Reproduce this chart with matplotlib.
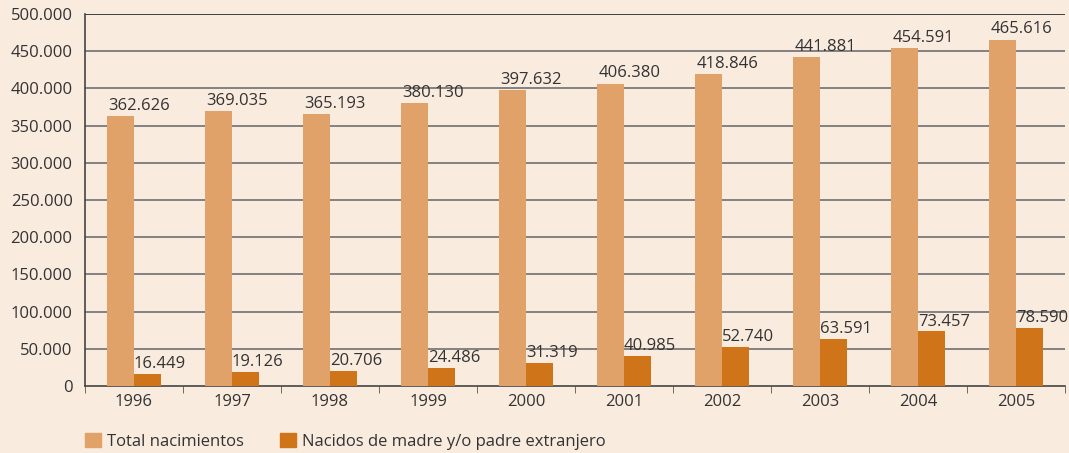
import numpy as np
import matplotlib
matplotlib.use('Agg')
import matplotlib.pyplot as plt
from matplotlib.patches import Patch

plt.rcParams['font.family'] = 'Open Sans'
plt.rcParams['font.size'] = 12

years = ['1996', '1997', '1998', '1999', '2000', '2001', '2002', '2003', '2004', '2005']
total = [362626, 369035, 365193, 380130, 397632, 406380, 418846, 441881, 454591, 465616]
extranjero = [16449, 19126, 20706, 24486, 31319, 40985, 52740, 63591, 73457, 78590]
series_names = ['Total nacimientos', 'Nacidos de madre y/o padre extranjero']
yticks = [0, 50000, 100000, 150000, 200000, 250000, 300000, 350000, 400000, 450000, 500000]

bg = '#faebdf'
c_light = '#e0a268'
c_dark = '#cf7419'
txt = '#333333'

def fmt(v):
    return f'{v:,}'.replace(',', '.')

fig = plt.figure(figsize=[10.69, 4.53], dpi=100, facecolor=bg)
ax = fig.add_axes([85/1069, 1-386/453, 980/1069, (386-14)/453])
ax.set_facecolor(bg)

x = np.arange(len(years))
w = 0.28
ax.bar(x - w/2, total, w, color=c_light, zorder=3)
ax.bar(x + w/2, extranjero, w, color=c_dark, zorder=3)

for i in range(len(years)):
    ax.text(x[i] - w + 0.02, total[i] + 3000, fmt(total[i]), ha='left', va='bottom',
            color=txt, zorder=4, clip_on=False)
    ax.text(x[i] + 0.0, extranjero[i] + 2000, fmt(extranjero[i]), ha='left', va='bottom',
            color=txt, zorder=4, clip_on=False)

ax.set_xlim(-0.5, len(years) - 0.5)
ax.set_ylim(0, 500000)
ax.set_yticks(yticks)
ax.set_yticklabels([fmt(v) for v in yticks], color=txt)
ax.tick_params(axis='y', length=0, pad=9)
ax.set_xticks(x)
ax.set_xticklabels(years, color=txt)
ax.tick_params(axis='x', length=0, pad=6)
ax.set_xticks(np.arange(len(years) + 1) - 0.5, minor=True)
ax.tick_params(axis='x', which='minor', length=5, color='#555555', direction='out')

for v in yticks[1:-1]:
    ax.axhline(v, color='#7a7a7a', lw=1.3, zorder=1)
ax.axhline(500000, color='#333333', lw=1.3, zorder=1)

for s in ['top', 'right']:
    ax.spines[s].set_visible(False)
ax.spines['left'].set_color('#444444')
ax.spines['bottom'].set_color('#444444')
ax.spines['left'].set_linewidth(1.2)
ax.spines['bottom'].set_linewidth(1.2)

handles = [Patch(color=c_light), Patch(color=c_dark)]
fig.legend(handles, series_names, loc='lower left', bbox_to_anchor=(85/1069, 3/453),
           ncol=2, frameon=False, handlelength=0.95, handleheight=0.95,
           handletextpad=0.35, columnspacing=2.2, labelcolor=txt,
           borderpad=0, borderaxespad=0)

fig.savefig('out.png', dpi=100, facecolor=bg)
